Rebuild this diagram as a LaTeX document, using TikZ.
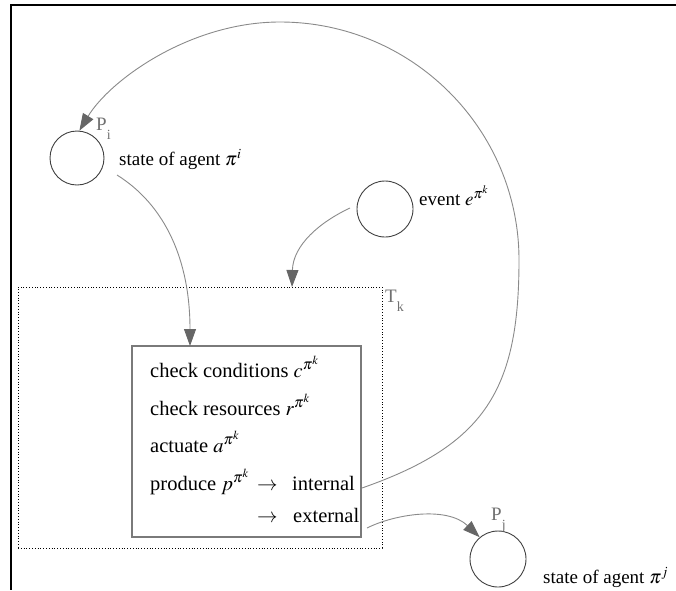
\documentclass[tikz,border=0pt]{standalone}
\usepackage{mathptmx}
\usepackage{fontspec}
\setmainfont{Liberation Serif}
\usetikzlibrary{arrows.meta}
\definecolor{conn}{HTML}{8A8A8A}
\definecolor{tipc}{HTML}{666666}
\definecolor{tagc}{HTML}{707070}
\definecolor{boxc}{HTML}{7A7A7A}
\newcommand{\tagsub}[1]{\raisebox{-0.5em}{\fontsize{14}{14}\selectfont #1}}
\tikzset{
  statecirc/.style={circle, draw=black!75, line width=0.9pt, minimum size=#1, inner sep=0pt},
  lab/.style={font=\fontsize{19}{22}\selectfont, inner sep=0pt, anchor=base west},
  boxtxt/.style={font=\fontsize{20.5}{24}\selectfont, inner sep=0pt, anchor=base west},
  tagtxt/.style={font=\fontsize{19}{22}\selectfont, text=tagc, inner sep=0pt, anchor=base west},
  conn/.style={draw=conn, line width=0.9pt, -{Triangle[length=17pt,width=12pt]}, arrows={-{Triangle[length=17pt,width=12pt,color=tipc]}}},
  connplain/.style={draw=conn, line width=0.9pt},
}
\begin{document}
\begin{tikzpicture}[x=1pt,y=-1pt]
\useasboundingbox (0,0) rectangle (676,590);
% frame
\draw[line width=2pt] (10,5) -- (676,5);
\draw[line width=2pt] (11,4) -- (11,590);
% states
\node[statecirc=54pt] (Pi) at (77,158) {};
\node[tagtxt] (Pitag) at (96,130) {P\tagsub{i}};
\node[lab] (Pilab) at (119,165) {state of agent $\pi^{i}$};
\node[statecirc=56pt] (E) at (385,209) {};
\node[lab] (Elab) at (419,205) {event $e^{\pi^{k}}$};
\node[statecirc=56pt] (Pj) at (498,559) {};
\node[tagtxt] (Pjtag) at (491,520) {P\tagsub{j}};
\node[lab] (Pjlab) at (543,583) {state of agent $\pi^{j}$};
% transition Tk
\node[draw=black, dotted, line width=0.8pt, minimum width=364pt, minimum height=261pt, inner sep=0pt] (T) at (200,417.5) {};
\node[tagtxt] (Ttag) at (385,302) {T\tagsub{k}};
\node[draw=boxc, line width=1.3pt, fill=white, minimum width=229pt, minimum height=191pt, inner sep=0pt] (B) at (246.5,441.5) {};
\node[boxtxt] (c1) at (150,377) {check conditions $c^{\pi^{k}}$};
\node[boxtxt] (c2) at (150,415) {check resources $r^{\pi^{k}}$};
\node[boxtxt] (c3) at (150,452) {actuate $a^{\pi^{k}}$};
\node[boxtxt] (c4) at (150,490) {produce $p^{\pi^{k}}$};
\node[boxtxt] (a1) at (257,490) {$\rightarrow$};
\node[boxtxt] (int) at (292,490) {internal};
\node[boxtxt] (a2) at (257,522) {$\rightarrow$};
\node[boxtxt] (ext) at (293,522) {external};
% connector anchors
\coordinate (s1) at (117,175);
\coordinate (t1) at (190,346);
\coordinate (s2) at (350,208);
\coordinate (t2) at (292,287);
\coordinate (s3) at (362,488);
\coordinate (m3a) at (519,260);
\coordinate (m3b) at (280,22);
\coordinate (s4) at (367,528);
% connectors
\draw[conn] (s1) .. controls (165,205) and (190,260) .. (t1);
\draw[conn] (s2) .. controls (320,222) and (293,245) .. (t2);
\draw[conn] (s3) .. controls (485,445) and (519,390) .. (m3a)
  .. controls (519,129) and (412,22) .. (m3b)
  .. controls (190,22) and (110,80) .. (Pi.85);
\draw[conn] (s4) .. controls (395,514) and (447,506) .. (Pj.130);
\end{tikzpicture}
\end{document}
